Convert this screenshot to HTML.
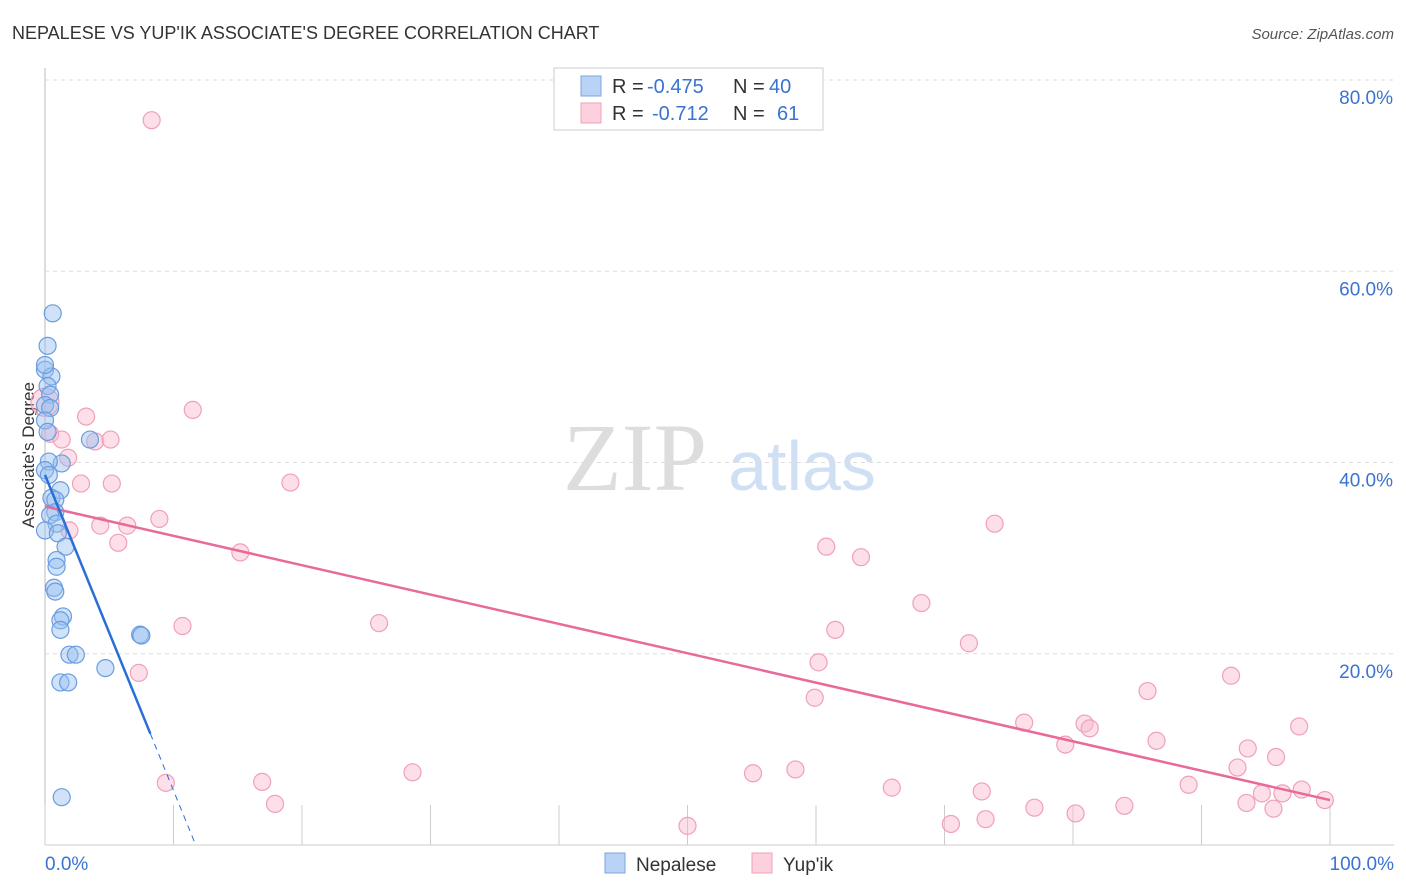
<!DOCTYPE html>
<html><head><meta charset="utf-8"><style>
body{margin:0;background:#fff;font-family:"Liberation Sans",sans-serif}
svg{display:block}
</style></head><body>
<svg id="c" width="1406" height="892">
<text x="12" y="39" font-size="18" fill="#333">NEPALESE VS YUP'IK ASSOCIATE'S DEGREE CORRELATION CHART</text>
<text x="1394" y="39" font-size="15" fill="#555" font-style="italic" text-anchor="end">Source: ZipAtlas.com</text>
<text x="0" y="0" transform="translate(34,455) rotate(-90)" font-size="17" fill="#333" text-anchor="middle">Associate's Degree</text>
<g><text x="635" y="490" font-size="96" font-family="Liberation Serif,serif" fill="#ddd" text-anchor="middle">ZIP</text><text x="802" y="490" font-size="70" fill="#cfe0f4" text-anchor="middle">atlas</text></g>
<g id="grid"></g><g id="marks"></g>
<g>
<rect x="554" y="68" width="269" height="62" fill="#fff" stroke="#ccc"/>
<rect x="581" y="76" width="20" height="20" fill="#b8d3f5" stroke="#7aa6e0"/>
<rect x="581" y="103" width="20" height="20" fill="#fcd0dd" stroke="#f0a0b8"/>
<text x="612" y="93" font-size="20" fill="#333">R =</text>
<text x="647" y="93" font-size="20" fill="#3a73d0">-0.475</text>
<text x="733" y="93" font-size="20" fill="#333">N =</text>
<text x="769" y="93" font-size="20" fill="#3a73d0">40</text>
<text x="612" y="120" font-size="20" fill="#333">R =</text>
<text x="652" y="120" font-size="20" fill="#3a73d0">-0.712</text>
<text x="733" y="120" font-size="20" fill="#333">N =</text>
<text x="777" y="120" font-size="20" fill="#3a73d0">61</text>
</g>
<g>
<rect x="605" y="853" width="20" height="20" fill="#b8d3f5" stroke="#7aa6e0"/>
<text x="636" y="871" font-size="19" fill="#333">Nepalese</text>
<rect x="752" y="853" width="20" height="20" fill="#fcd0dd" stroke="#f0a0b8"/>
<text x="783" y="871" font-size="19" fill="#333">Yup'ik</text>
</g>
</svg>
<script>
const yTicks=[20,40,60,80];
const xTickLabels=["0.0%","100.0%"];
const blueX=[0.6,0.2,0,0.5,0.2,0.4,0,0.4,0,0.2,3.5,1.3,0.3,0,0.3,1.2,0.5,0.8,0.8,0.4,0.9,0,1.0,1.6,0.9,0.9,0.7,0.8,1.4,1.2,1.2,7.4,7.5,1.9,2.4,4.7,1.2,1.8,1.3,0];
const blueY=[55.6,52.2,49.7,49.0,48.0,47.1,46.0,45.7,44.4,43.2,42.4,39.9,40.1,39.2,38.7,37.1,36.3,36.1,34.8,34.5,33.6,32.9,32.6,31.2,29.8,29.1,26.9,26.5,23.9,23.5,22.5,22.0,21.9,19.9,19.9,18.5,17.0,17.0,5.0,50.2];
const pinkX=[8.3,0,0.4,1.3,3.2,3.9,5.1,11.5,1.8,2.8,5.2,19.1,1.9,4.3,6.4,8.9,5.7,15.2,10.7,7.3,26.0,9.4,16.9,17.9,28.6,50.0,55.1,58.4,59.9,60.2,60.8,61.5,63.5,65.9,68.2,70.5,71.9,72.9,73.2,73.9,76.2,77.0,79.4,80.2,80.9,81.3,84.0,85.8,86.5,89.0,92.3,92.8,93.6,93.5,94.7,95.6,95.8,96.3,97.6,97.8,99.6];
const pinkY=[75.8,46.3,43.0,42.4,44.8,42.2,42.4,45.5,40.5,37.8,37.8,37.9,32.9,33.4,33.4,34.1,31.6,30.6,22.9,18.0,23.2,6.5,6.6,4.3,7.6,2.0,7.5,7.9,15.4,19.1,31.2,22.5,30.1,6.0,25.3,2.2,21.1,5.6,2.7,33.6,12.8,3.9,10.5,3.3,12.7,12.2,4.1,16.1,10.9,6.3,17.7,8.1,10.1,4.4,5.4,3.8,9.2,5.4,12.4,5.8,4.7];
const blueTrend=[38.7,-3.3];
const pinkTrend=[35.4,4.7];
const NS="http://www.w3.org/2000/svg";
const X0=45,X1=1330,Y0=845,YS=9.5625;
const sx=v=>X0+(X1-X0)*v/100, sy=v=>Y0-v*YS;
function mk(t,a,p){const e=document.createElementNS(NS,t);for(const k in a)e.setAttribute(k,a[k]);p.appendChild(e);return e;}
const g=document.getElementById('grid'),m=document.getElementById('marks');
mk('line',{x1:45,y1:68,x2:45,y2:845,stroke:'#bbb'},g);
mk('line',{x1:45,y1:845,x2:1394,y2:845,stroke:'#ccc'},g);
yTicks.forEach(t=>{
 const l=mk('line',{x1:45,y1:sy(t),x2:1394,y2:sy(t),stroke:'#ddd','stroke-dasharray':'4,4'},g);
 
 
 const tx=mk('text',{x:1393,y:sy(t)+24,'font-size':19,fill:'#3a73d0','text-anchor':'end'},g);tx.textContent=t.toFixed(1)+'%';
 
 
});
for(let i=0;i<=10;i++){const t=mk('line',{x1:sx(i*10),y1:805,x2:sx(i*10),y2:845,stroke:'#ccc'},g);
 
 }
const xl0=mk('text',{x:45,y:870,'font-size':19,fill:'#3a73d0'},g);xl0.textContent=xTickLabels[0];


const xl1=mk('text',{x:1394,y:870,'font-size':19,fill:'#3a73d0','text-anchor':'end'},g);xl1.textContent=xTickLabels[1];


pinkX.forEach((x,i)=>{const c=mk('circle',{cx:sx(x),cy:sy(pinkY[i]),r:i==1?14:8.5,fill:'rgba(248,185,205,0.45)',stroke:'#f0a0b8','stroke-width':1.2},m);
 
 });
blueX.forEach((x,i)=>{const c=mk('circle',{cx:sx(x),cy:sy(blueY[i]),r:8.5,fill:'rgba(150,190,240,0.45)',stroke:'#6a9de0','stroke-width':1.2},m);
 
 });
const pl=mk('line',{x1:sx(0),y1:sy(pinkTrend[0]),x2:sx(100),y2:sy(pinkTrend[1]),stroke:'#e8699a','stroke-width':2.5},m);


const bEnd=8.2, bZero=-blueTrend[0]/blueTrend[1];
const bl=mk('line',{x1:sx(0),y1:sy(blueTrend[0]),x2:sx(bEnd),y2:sy(blueTrend[0]+blueTrend[1]*bEnd),stroke:'#2a6fd6','stroke-width':2.5},m);


const bd=mk('line',{x1:sx(bEnd),y1:sy(blueTrend[0]+blueTrend[1]*bEnd),x2:sx(bZero),y2:sy(0),stroke:'#2a6fd6','stroke-width':1,'stroke-dasharray':'6,5'},m);


</script>
</body></html>
